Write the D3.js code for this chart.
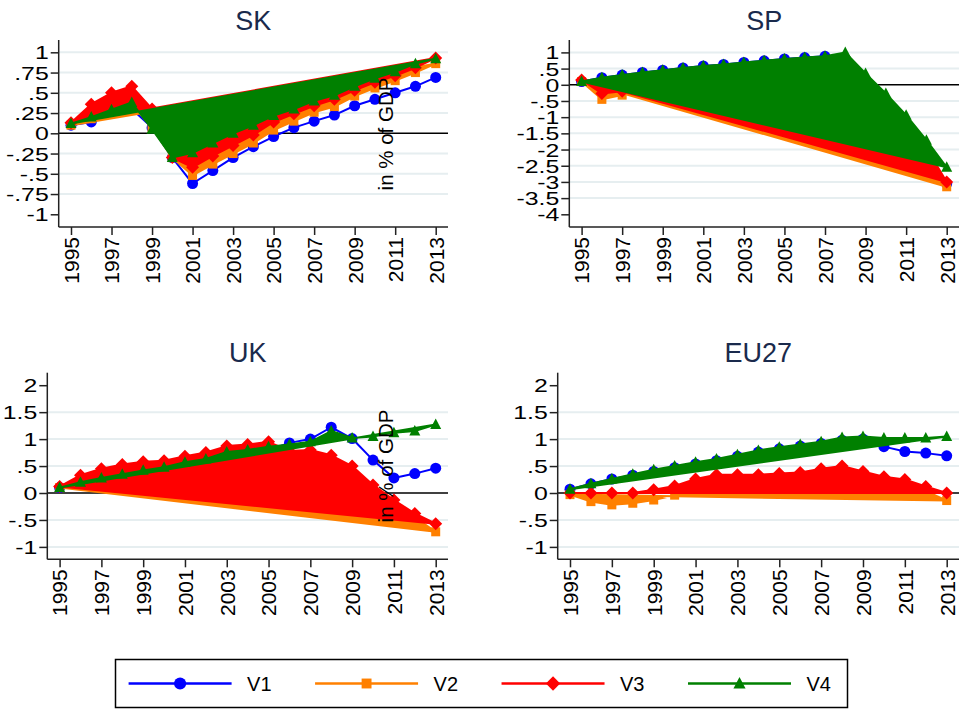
<!DOCTYPE html>
<html><head><meta charset="utf-8">
<script src="https://cdn.jsdelivr.net/npm/d3@7"></script>
<style>
body{margin:0;background:#fff}
svg{display:block}
text{font-family:Arial,"Liberation Sans",Helvetica,sans-serif}
</style>
</head><body>
<svg id="chart" width="961" height="709"></svg>
<script>
// ---------------- data ----------------
const years = [1995,1996,1997,1998,1999,2000,2001,2002,2003,2004,2005,2006,2007,2008,2009,2010,2011,2012,2013];
const xTicks = [1995,1997,1999,2001,2003,2005,2007,2009,2011,2013];
const seriesNames = ["V1","V2","V3","V4"];

// SK
const sk_v1 = [0.10,0.14,0.26,0.30,0.07,-0.30,-0.62,-0.46,-0.30,-0.165,-0.04,0.07,0.15,0.225,0.34,0.42,0.50,0.58,0.69];
const sk_v2 = [0.10,0.18,0.27,0.36,0.07,-0.30,-0.52,-0.38,-0.25,-0.12,0.04,0.15,0.26,0.33,0.46,0.56,0.65,0.75,0.86];
const sk_v3 = [0.13,0.36,0.50,0.58,0.30,-0.30,-0.42,-0.28,-0.15,-0.02,0.14,0.24,0.34,0.42,0.53,0.63,0.71,0.81,0.93];
const sk_v4 = [0.12,0.20,0.29,0.38,0.05,-0.30,-0.24,-0.12,0.00,0.10,0.22,0.30,0.40,0.47,0.58,0.68,0.76,0.86,0.92];
const sk_ticks = [1,0.75,0.5,0.25,0,-0.25,-0.5,-0.75,-1];
const sk_labels = ["1",".75",".5",".25","0","-.25","-.5","-.75","-1"];
const sk_grid = [1,0.75,0.5,0.25,-0.25,-0.5,-0.75];

// SP
const sp_v1 = [0.10,0.22,0.30,0.38,0.45,0.52,0.58,0.63,0.69,0.74,0.80,0.84,0.88,null,null,null,null,null,-3.05];
const sp_v2 = [0.10,-0.45,-0.32,-0.15,-0.15,-0.20,-0.25,-0.30,-0.35,-0.40,-0.45,-0.50,-0.55,-0.95,-1.35,-1.65,-1.90,-2.00,-3.15];
const sp_v3 = [0.15,-0.27,-0.20,-0.10,-0.10,-0.15,-0.20,-0.25,-0.30,-0.35,-0.40,-0.45,-0.50,-0.90,-1.30,-1.60,-1.85,-1.95,-3.00];
const sp_v4 = [0.10,0.22,0.30,0.38,0.45,0.52,0.58,0.63,0.69,0.74,0.80,0.84,0.88,1.00,0.35,-0.27,-0.94,-1.71,-2.55];
const sp_ticks = [1,0.5,0,-0.5,-1,-1.5,-2,-2.5,-3,-3.5,-4];
const sp_labels = ["1",".5","0","-.5","-1","-1.5","-2","-2.5","-3","-3.5","-4"];
const sp_grid = [1,0.5,-0.5,-1,-1.5,-2,-2.5,-3,-3.5];

// UK
const uk_v1 = [0.10,0.18,0.25,0.30,0.35,0.40,0.47,0.55,0.65,0.72,0.80,0.93,1.00,1.22,1.01,0.61,0.28,0.36,0.46];
const uk_v2 = [0.10,0.20,0.22,0.25,0.28,0.30,0.30,0.32,0.35,0.35,0.35,0.30,0.30,0.20,0.05,-0.15,-0.30,-0.45,-0.72];
const uk_v3 = [0.12,0.33,0.45,0.53,0.58,0.60,0.68,0.75,0.87,0.90,0.95,0.78,0.80,0.70,0.50,0.15,-0.13,-0.38,-0.57];
const uk_v4 = [0.10,0.20,0.28,0.35,0.42,0.48,0.57,0.63,0.76,0.80,0.86,0.90,0.95,1.15,1.02,1.05,1.12,1.15,1.27];
const uk_ticks = [2,1.5,1,0.5,0,-0.5,-1];
const uk_labels = ["2","1.5","1",".5","0","-.5","-1"];
const uk_grid = [1.5,1,0.5,-0.5,-1];

// EU27
const eu_v1 = [0.07,0.17,0.26,0.33,0.40,0.47,0.54,0.60,0.68,0.76,0.82,0.87,0.92,0.98,1.00,0.86,0.77,0.74,0.69];
const eu_v2 = [-0.03,-0.16,-0.22,-0.19,-0.13,-0.04,0.04,0.04,0.04,0.04,0.04,0.04,0.04,0.04,0.04,0.04,0.04,0.04,-0.14];
const eu_v3 = [0.00,0.00,0.00,0.00,0.06,0.13,0.26,0.34,0.34,0.34,0.36,0.38,0.45,0.50,0.40,0.30,0.25,0.12,0.00];
const eu_v4 = [0.07,0.17,0.26,0.35,0.43,0.50,0.57,0.63,0.71,0.79,0.85,0.90,0.95,1.03,1.05,1.02,1.02,1.02,1.05];
const eu_ticks = uk_ticks;
const eu_labels = uk_labels;
const eu_grid = uk_grid;

// ---------------- layout & style ----------------
const colors = ["#0000ff","#ff8000","#ff0000","#008000"];
const markers = ["circle","square","diamond","triangle"];
const titleColor = "#1a2a4c";

const panels = [
  {title:"SK", series:[sk_v1,sk_v2,sk_v3,sk_v4], ticks:sk_ticks, labels:sk_labels, grid:sk_grid,
   dom:[-1.157,1.152], l:58.7, r:448, t:40, b:227, titleY:29.5},
  {title:"SP", series:[sp_v1,sp_v2,sp_v3,sp_v4], ticks:sp_ticks, labels:sp_labels, grid:sp_grid,
   dom:[-4.392,1.383], l:569.3, r:959, t:40, b:227, titleY:29.5},
  {title:"UK", series:[uk_v1,uk_v2,uk_v3,uk_v4], ticks:uk_ticks, labels:uk_labels, grid:uk_grid,
   dom:[-1.230,2.232], l:47.3, r:448, t:372.7, b:559.3, titleY:362},
  {title:"EU27", series:[eu_v1,eu_v2,eu_v3,eu_v4], ticks:eu_ticks, labels:eu_labels, grid:eu_grid,
   dom:[-1.230,2.232], l:557.7, r:959, t:372.7, b:559.3, titleY:362}
];

const svg = d3.select("#chart");

function drawMarker(g, type, x, y, color, k) {
  k = k || 1;
  if (type === "circle") {
    g.append("circle").attr("cx", x).attr("cy", y).attr("r", 5.5*k).attr("fill", color);
  } else if (type === "square") {
    const s = 9*k;
    g.append("rect").attr("x", x - s/2).attr("y", y - s/2).attr("width", s).attr("height", s).attr("fill", color);
  } else if (type === "diamond") {
    const h = 6.5*k;
    g.append("path").attr("d", `M${x},${y-h}L${x+h},${y}L${x},${y+h}L${x-h},${y}Z`).attr("fill", color);
  } else {
    const w = 5.5*k, h1 = 6*k, h2 = 4.5*k;
    g.append("path").attr("d", `M${x},${y-h1}L${x+w},${y+h2}L${x-w},${y+h2}Z`).attr("fill", color);
  }
}

panels.forEach(p => {
  const g = svg.append("g");
  const x = d3.scaleLinear().domain([1995, 2013]).range([p.l + 12.3, p.r - 12.3]);
  const y = d3.scaleLinear().domain(p.dom).range([p.b, p.t]);

  // gridlines
  g.selectAll("line.grid").data(p.grid).join("line")
    .attr("x1", p.l).attr("x2", p.r)
    .attr("y1", d => y(d)).attr("y2", d => y(d))
    .attr("stroke", "#e6eef0").attr("stroke-width", 2);

  // zero line
  g.append("line").attr("x1", p.l).attr("x2", p.r)
    .attr("y1", y(0)).attr("y2", y(0))
    .attr("stroke", "#000").attr("stroke-width", 1.4);

  // series
  p.series.forEach((vals, i) => {
    const pts = years.map((yr, j) => ({yr, v: vals[j]})).filter(d => d.v !== null);
    const line = d3.line().x(d => x(d.yr)).y(d => y(d.v));
    const sg = g.append("g");
    if (i === 0) {
      sg.append("path").attr("d", line(pts)).attr("fill", "none")
        .attr("stroke", colors[i]).attr("stroke-width", 2).attr("stroke-linejoin", "round");
    } else {
      sg.append("path").attr("d", line(pts) + "Z").attr("fill", colors[i])
        .attr("stroke", colors[i]).attr("stroke-width", 2).attr("stroke-linejoin", "round");
    }
    pts.forEach(d => drawMarker(sg, markers[i], x(d.yr), y(d.v), colors[i]));
  });

  // y axis
  const ya = g.append("g").attr("transform", `translate(${p.l},0)`)
    .call(d3.axisLeft(y).tickValues(p.ticks).tickSize(8).tickSizeOuter(0)
      .tickFormat((d, i) => p.labels[i]));
  ya.select(".domain").attr("d", `M0,${p.t}V${p.b}`).attr("stroke", "#222").attr("stroke-width", 1.5);
  ya.selectAll(".tick line").attr("stroke", "#222").attr("stroke-width", 1.5);
  ya.selectAll(".tick text").attr("x", 0).attr("dy", "0.36em")
    .attr("transform", "translate(-10,0) scale(1.38,1)")
    .attr("text-anchor", "end").attr("font-size", 18).attr("fill", "#000")
    .attr("font-family", "Arial, 'Liberation Sans', sans-serif");

  // x axis
  const xa = g.append("g").attr("transform", `translate(0,${p.b})`)
    .call(d3.axisBottom(x).tickValues(xTicks).tickSize(8).tickSizeOuter(0).tickFormat(d3.format("d")));
  xa.select(".domain").attr("d", `M${p.l},0H${p.r}`).attr("stroke", "#222").attr("stroke-width", 1.5);
  xa.selectAll(".tick line").attr("stroke", "#222").attr("stroke-width", 1.5);
  xa.selectAll(".tick text").attr("transform", "rotate(-90)")
    .attr("x", -10).attr("y", 0).attr("dy", "0.35em")
    .attr("text-anchor", "end").attr("font-size", 21).attr("fill", "#000")
    .attr("font-family", "Arial, 'Liberation Sans', sans-serif");

  // title
  g.append("text").attr("x", (p.l + p.r) / 2).attr("y", p.titleY)
    .attr("text-anchor", "middle").attr("font-size", 27).attr("fill", titleColor)
    .text(p.title);
});

// y titles (as placed in the reference)
[134, 466].forEach(cy => {
  svg.append("text").attr("transform", `translate(393,${cy}) rotate(-90)`)
    .attr("text-anchor", "middle").attr("font-size", 20.5).attr("fill", "#000")
    .text("in % of GDP");
});

// legend
const lg = svg.append("g");
lg.append("rect").attr("x", 115.5).attr("y", 659.5).attr("width", 732).attr("height", 48)
  .attr("fill", "#fff").attr("stroke", "#000").attr("stroke-width", 1.5);
const legX = d3.scalePoint().domain(seriesNames).range([128.6, 688]);
seriesNames.forEach((name, i) => {
  const x0 = legX(name);
  const ly = 683.5;
  lg.append("line").attr("x1", x0).attr("x2", x0 + 103).attr("y1", ly).attr("y2", ly)
    .attr("stroke", colors[i]).attr("stroke-width", 2.5);
  drawMarker(lg, markers[i], x0 + 51.5, ly, colors[i], 1.1);
  lg.append("text").attr("x", x0 + 118.5).attr("y", ly + 7.5)
    .attr("font-size", 20).attr("fill", "#000").text(name);
});
</script>
</body></html>
